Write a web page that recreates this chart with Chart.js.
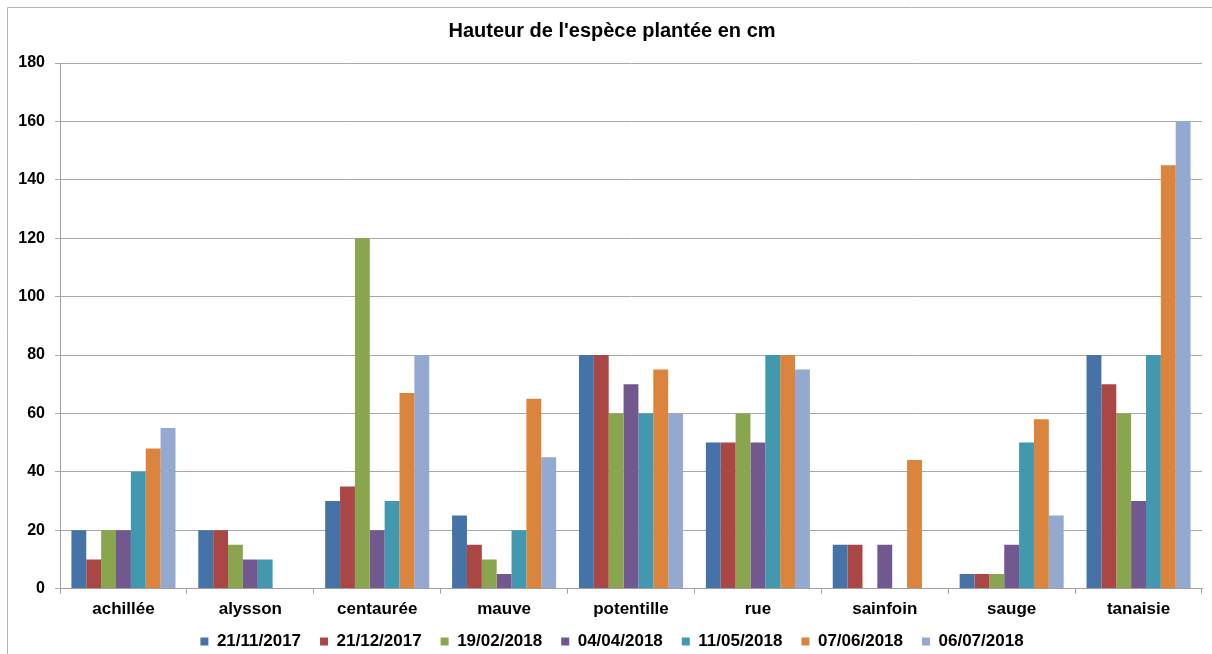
<!DOCTYPE html>
<html>
<head>
<meta charset="utf-8">
<script src="https://cdn.jsdelivr.net/npm/chart.js@4"></script>
<style>
  html, body { margin: 0; padding: 0; background: #fff; }
  #wrap { width: 1212px; height: 654px; position: relative; }
</style>
</head>
<body>
<div id="wrap"><canvas id="barChart"></canvas></div>
<script>
// --- Data ---
const categories = ['achillée', 'alysson', 'centaurée', 'mauve', 'potentille', 'rue', 'sainfoin', 'sauge', 'tanaisie'];
const dates = ['21/11/2017', '21/12/2017', '19/02/2018', '04/04/2018', '11/05/2018', '07/06/2018', '06/07/2018'];
const h20171121 = [20, 20, 30, 25, 80, 50, 15, 5, 80];
const h20171221 = [10, 20, 35, 15, 80, 50, 15, 5, 70];
const h20180219 = [20, 15, 120, 10, 60, 60, null, 5, 60];
const h20180404 = [20, 10, 20, 5, 70, 50, 15, 15, 30];
const h20180511 = [40, 10, 30, 20, 60, 80, null, 50, 80];
const h20180607 = [48, null, 67, 65, 75, 80, 44, 58, 145];
const h20180706 = [55, null, 80, 45, 60, 75, null, 25, 160];
const yTicks = [0, 20, 40, 60, 80, 100, 120, 140, 160, 180];

const seriesValues = [h20171121, h20171221, h20180219, h20180404, h20180511, h20180607, h20180706];
const colors = ['#4572A7', '#AA4643', '#89A54E', '#71588F', '#4198AF', '#DB843D', '#93A9CF'];

// --- Outer frame (the reference is cropped at right/bottom) ---
const framePlugin = {
    id: 'frame',
    beforeDraw(chart) {
        const c = chart.ctx;
        c.save();
        c.strokeStyle = '#b4b4b4';
        c.lineWidth = 1;
        c.beginPath();
        c.moveTo(7.5, chart.height + 5);
        c.lineTo(7.5, 7.5);
        c.lineTo(chart.width + 5, 7.5);
        c.stroke();
        c.restore();
    }
};

// legend sits closer to the axis labels than Chart.js would put it
const LEGEND_FIT = 13;
const LEGEND_SHIFT = 12;
const legendTweak = {
    id: 'legendTweak',
    afterInit(chart) {
        const lg = chart.legend;
        if (!lg) return;
        const fit = lg.fit, draw = lg.draw;
        lg.fit = function () { fit.call(this); this.height -= LEGEND_FIT; };
        lg.draw = function () {
            const c = this.ctx;
            c.save();
            c.translate(0, -LEGEND_SHIFT);
            draw.call(this);
            c.restore();
        };
    }
};

const ctx = document.getElementById('barChart').getContext('2d');
window.barChart = new Chart(ctx, {
    type: 'bar',
    data: {
        labels: categories,
        datasets: dates.map((d, i) => ({
            label: d,
            data: seriesValues[i],
            backgroundColor: colors[i],
            borderWidth: 0,
            barPercentage: 1,
            categoryPercentage: 0.82
        }))
    },
    options: {
        responsive: true,
        maintainAspectRatio: false,
        animation: false,
        layout: { padding: { top: 0, right: 0, bottom: -5, left: 12 } },
        plugins: {
            title: {
                display: true,
                text: "Hauteur de l'espèce plantée en cm",
                color: '#000',
                font: { family: 'Liberation Sans, Arial', size: 20, weight: 'bold' },
                padding: { top: 19, bottom: 20 }
            },
            legend: {
                position: 'bottom',
                labels: {
                    color: '#000',
                    boxWidth: 8,
                    boxHeight: 8,
                    padding: 19,
                    font: { family: 'Liberation Sans, Arial', size: 17, weight: 'bold' }
                }
            },
            tooltip: { enabled: false }
        },
        scales: {
            x: {
                grid: { display: true, drawOnChartArea: false, offset: true, color: '#a0a0a0', tickLength: 5 },
                border: { color: '#a0a0a0' },
                ticks: { color: '#000', padding: 6, font: { family: 'Liberation Sans, Arial', size: 17, weight: 'bold' } }
            },
            y: {
                min: 0,
                max: 180,
                afterFit: scale => { scale.width = 48; },
                afterBuildTicks: scale => { scale.ticks = yTicks.map(v => ({ value: v })); },
                grid: { color: '#a8a8a8', tickLength: 5 },
                border: { color: '#a0a0a0' },
                ticks: { color: '#000', padding: 10, font: { family: 'Liberation Sans, Arial', size: 16, weight: 'bold' } }
            },
            // empty right-hand strip between plot area and frame edge
            yRight: {
                position: 'right',
                afterFit: scale => { scale.width = 10; },
                grid: { display: false },
                border: { display: false },
                ticks: { display: false }
            }
        }
    },
    plugins: [framePlugin, legendTweak]
});
</script>
</body>
</html>
